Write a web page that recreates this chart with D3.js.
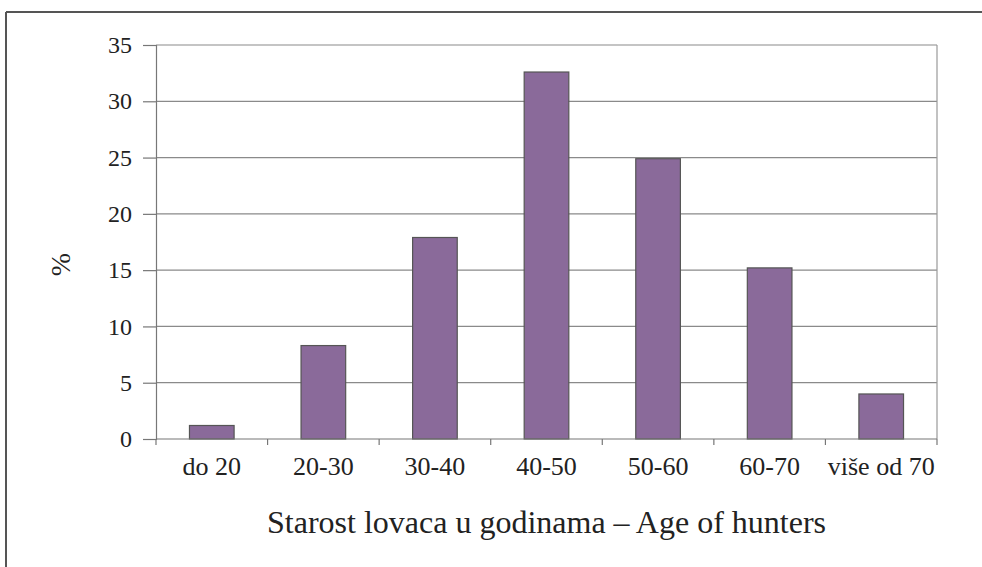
<!DOCTYPE html>
<html><head><meta charset="utf-8">
<script src="https://cdn.jsdelivr.net/npm/d3@7"></script>
<style>body{margin:0;background:#fff}svg{display:block}</style>
</head><body>
<script>
const categories = ["do 20","20-30","30-40","40-50","50-60","60-70","više od 70"];
const values = [1.2, 8.3, 17.9, 32.6, 24.9, 15.2, 4.0];
const yTicks = [0,5,10,15,20,25,30,35];
const xTitle = "Starost lovaca u godinama – Age of hunters";
const yTitle = "%";

const W = 982, H = 567;
const m = {left:156, right:W-937, top:45, bottom:H-439};
const svg = d3.select("body").append("svg").attr("width",W).attr("height",H);
const font = "Liberation Serif, Times New Roman, serif";

// outer frame
svg.append("line").attr("x1",6).attr("x2",W).attr("y1",12).attr("y2",12).attr("stroke","#555").attr("stroke-width",2);
svg.append("line").attr("x1",6).attr("x2",6).attr("y1",12).attr("y2",H).attr("stroke","#555").attr("stroke-width",2);

const x = d3.scaleBand().domain(categories).range([m.left, W-m.right]).paddingInner(0.6).paddingOuter(0.3);
const y = d3.scaleLinear().domain([0,35]).range([H-m.bottom, m.top]);

// gridlines
svg.append("g").selectAll("line").data(yTicks.filter(d=>d>0)).join("line")
  .attr("x1",m.left).attr("x2",W-m.right).attr("y1",d=>y(d)).attr("y2",d=>y(d))
  .attr("stroke","#8a8a8a").attr("stroke-width",1.2);
// right border
svg.append("line").attr("x1",W-m.right).attr("x2",W-m.right).attr("y1",y(35)).attr("y2",y(0)).attr("stroke","#999").attr("stroke-width",1.2);

// bars
svg.append("g").selectAll("rect").data(values).join("rect")
  .attr("x",(d,i)=>x(categories[i])).attr("width",x.bandwidth())
  .attr("y",d=>y(d)).attr("height",d=>y(0)-y(d))
  .attr("fill","#8a6a9a").attr("stroke","#555").attr("stroke-width",1.2);

// y axis
const ya = svg.append("g").attr("transform",`translate(${m.left},0)`)
  .call(d3.axisLeft(y).tickValues(yTicks).tickSize(13).tickPadding(11).tickFormat(d3.format("d")));
ya.select(".domain").attr("stroke","#777").attr("stroke-width",1.2);
ya.selectAll(".tick line").attr("stroke","#777").attr("stroke-width",1.2);
ya.selectAll("text").attr("font-family",font).attr("font-size",24).attr("fill","#222");

// x axis
const xEdges = d3.range(categories.length+1).map(i => m.left + i*(W-m.right-m.left)/categories.length);
const xa = svg.append("g").attr("transform",`translate(0,${y(0)})`);
xa.append("line").attr("x1",m.left).attr("x2",W-m.right).attr("stroke","#777").attr("stroke-width",1.2);
xa.selectAll(".tk").data(xEdges).join("line").attr("class","tk")
  .attr("x1",d=>d).attr("x2",d=>d).attr("y1",0).attr("y2",6).attr("stroke","#777").attr("stroke-width",1.2);
xa.selectAll("text").data(categories).join("text")
  .attr("x",d=>x(d)+x.bandwidth()/2).attr("y",36).attr("text-anchor","middle")
  .attr("font-family",font).attr("font-size",26).attr("fill","#222").text(d=>d);

// titles
svg.append("text").attr("x",(m.left+W-m.right)/2).attr("y",533).attr("text-anchor","middle")
  .attr("font-family",font).attr("font-size",32).attr("fill","#222").text(xTitle);
svg.append("text").attr("transform",`translate(70,${y(15.5)}) rotate(-90)`).attr("text-anchor","middle")
  .attr("font-family",font).attr("font-size",28).attr("fill","#222").text(yTitle);
</script>
</body></html>
